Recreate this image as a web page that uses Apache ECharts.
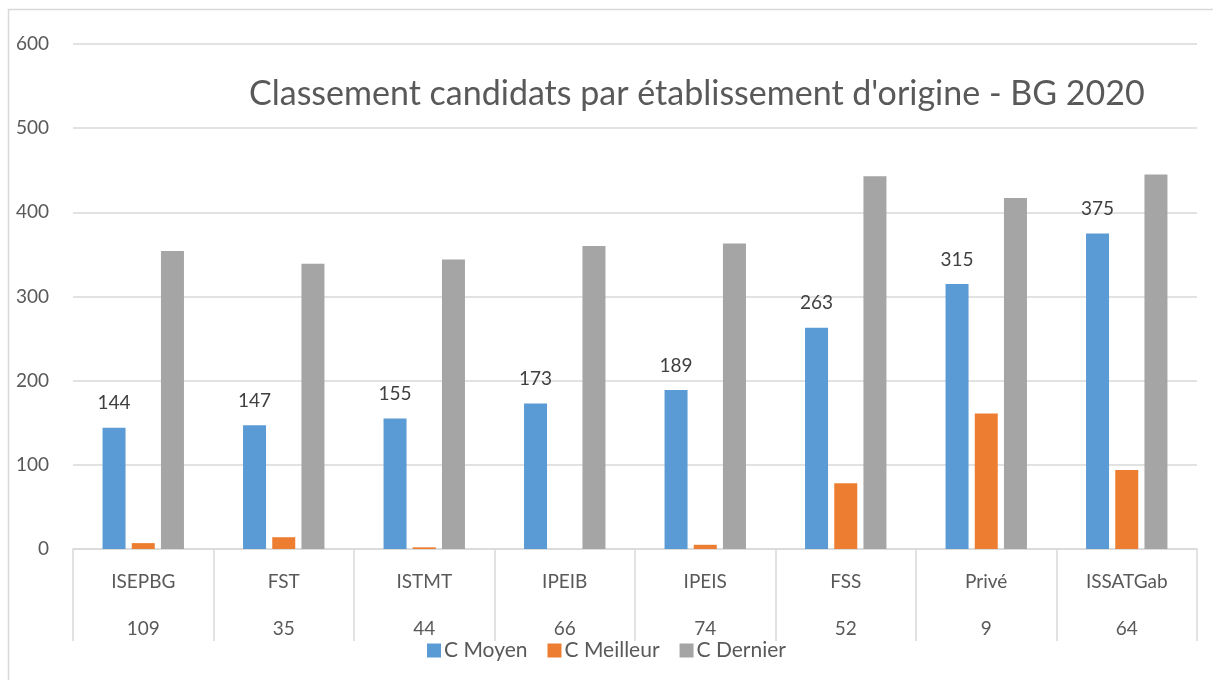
<!DOCTYPE html>
<html>
<head>
<meta charset="utf-8">
<script src="https://cdn.jsdelivr.net/npm/echarts@6/dist/echarts.min.js"></script>
<style>
html,body{margin:0;padding:0;background:#fff;}
#chart{width:1213px;height:680px;}
</style>
</head>
<body>
<div id="chart"></div>
<script>
// etablissements et nombre de candidats
var categories = ['ISEPBG', 'FST', 'ISTMT', 'IPEIB', 'IPEIS', 'FSS', 'Privé', 'ISSATGab'];
var counts = [109, 35, 44, 66, 74, 52, 9, 64];

// series
var cMoyen = [144, 147, 155, 173, 189, 263, 315, 375];
var cMeilleur = [7, 14, 2, 0, 5, 78, 161, 94];
var cDernier = [354, 339, 344, 360, 363, 443, 417, 445];

var yTicks = [0, 100, 200, 300, 400, 500, 600];

var font = 'Lato, "Open Sans", sans-serif';
var txt = '#595959';
var grid = '#d9d9d9';

var myChart = echarts.init(document.getElementById('chart'));

var option = {
	animation: false,
	textStyle: {fontFamily: font},
	// cadre du graphique
	graphic: [{
		type: 'rect', left: 6, top: 7, silent: true,
		shape: {width: 1400, height: 900},
		style: {fill: 'none', stroke: grid, lineWidth: 1.5}
	}],
	title: {
		text: "Classement candidats par établissement d'origine - BG 2020",
		left: 244,
		top: 72,
		textStyle: {fontFamily: font, fontSize: 34, fontWeight: 'normal', color: txt}
	},
	legend: {
		top: 635,
		left: 'center',
		itemWidth: 14,
		itemHeight: 14,
		itemGap: 20,
		icon: 'rect',
		textStyle: {fontFamily: font, fontSize: 21, color: txt, padding: [0, 0, 0, -2]},
		data: ['C Moyen', 'C Meilleur', 'C Dernier']
	},
	grid: {left: 73, right: 16, top: 44, bottom: 131, containLabel: false},
	xAxis: {
		type: 'category',
		data: categories,
		axisLine: {lineStyle: {color: grid, width: 1.5}},
		axisTick: {show: true, length: 92, interval: 0, lineStyle: {color: grid, width: 1.5}},
		axisLabel: {
			interval: 0,
			margin: 9,
			formatter: function(v, i){
				return '{n|' + v + '}\n{n|' + counts[i] + '}';
			},
			rich: {n: {fontFamily: font, fontSize: 19, color: txt, lineHeight: 47}}
		}
	},
	yAxis: {
		type: 'value',
		min: yTicks[0],
		max: yTicks[yTicks.length - 1],
		interval: 100,
		axisLine: {show: false},
		axisTick: {show: false},
		axisLabel: {fontFamily: font, fontSize: 19, color: txt, margin: 24},
		splitLine: {lineStyle: {color: grid, width: 1.5}}
	},
	series: [
		{
			name: 'C Moyen', type: 'bar', data: cMoyen,
			barWidth: 23, barGap: '27%',
			itemStyle: {color: '#5B9BD5'},
			label: {show: true, position: 'top', distance: 15, fontFamily: font, fontSize: 19, color: '#404040'}
		},
		{
			name: 'C Meilleur', type: 'bar', data: cMeilleur,
			barWidth: 23, barGap: '27%',
			itemStyle: {color: '#ED7D31'}
		},
		{
			name: 'C Dernier', type: 'bar', data: cDernier,
			barWidth: 23, barGap: '27%',
			itemStyle: {color: '#A5A5A5'}
		}
	]
};

myChart.setOption(option);
</script>
</body>
</html>
